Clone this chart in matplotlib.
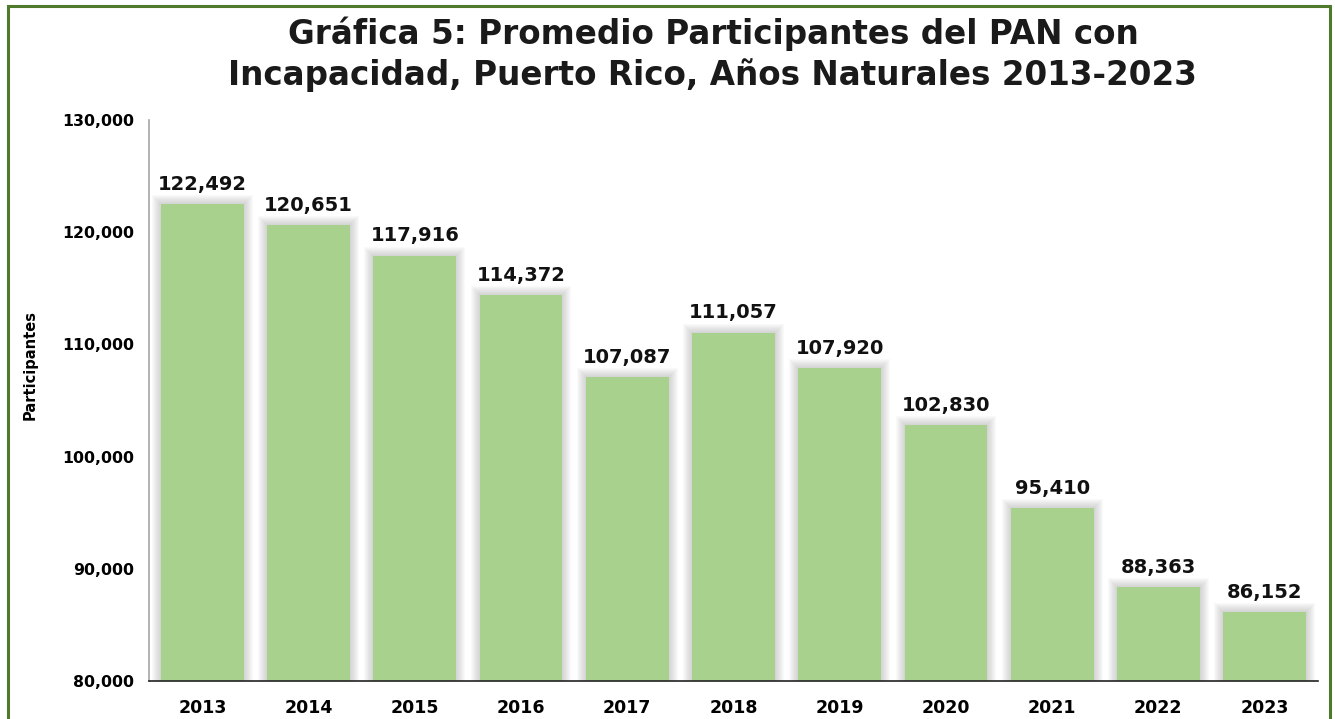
import matplotlib.pyplot as plt
import matplotlib.patches as mpatches
from matplotlib.ticker import FuncFormatter

years = ['2013', '2014', '2015', '2016', '2017', '2018',
         '2019', '2020', '2021', '2022', '2023']
participantes = [122492, 120651, 117916, 114372, 107087, 111057,
                 107920, 102830, 95410, 88363, 86152]

title = ('Gráfica 5: Promedio Participantes del PAN con\n'
         'Incapacidad, Puerto Rico, Años Naturales 2013-2023')
bar_color = '#A9D18E'
frame_color = '#4F7A2E'

plt.rcParams['font.family'] = ['DejaVu Sans']
plt.rcParams['font.weight'] = 'bold'

W, H = 1335, 719
fig = plt.figure(figsize=(W / 100, H / 100), dpi=100)
ax = fig.add_axes([149 / W, 1 - 681 / H, 1169 / W, 561 / H])

x = list(range(len(years)))
width = 0.78
px_x = 1 / 106.25          # one pixel in x data units
px_y = 50000 / 561         # one pixel in y data units
# soft grey glow behind bars
for k in range(9, 0, -1):
    ax.bar(x, [v + k * px_y for v in participantes],
           width=width + 2 * k * px_x, color='#7f7f7f', alpha=0.04,
           linewidth=0, zorder=1)
ax.bar(x, participantes, width=width, color=bar_color, linewidth=0, zorder=2)

for xi, v in zip(x, participantes):
    ax.text(xi, v + 900, f'{v:,}', ha='center', va='bottom',
            fontsize=14, fontweight='bold', color='#111111', zorder=3)

ax.set_ylim(80000, 130000)
ax.set_xlim(-0.503, len(years) - 0.497)
ax.set_yticks(range(80000, 130001, 10000))
ax.yaxis.set_major_formatter(FuncFormatter(lambda v, _: f'{int(v):,}'))
ax.set_xticks(x)
ax.set_xticklabels(years, fontsize=12.5, fontweight='bold')
ax.tick_params(axis='y', labelsize=11.3, length=0, pad=11)
ax.tick_params(axis='x', length=0, pad=13)
ax.set_ylabel('Participantes', fontsize=10.5, fontweight='bold')
ax.yaxis.set_label_coords(-0.095, 0.563)

for s in ('top', 'right'):
    ax.spines[s].set_visible(False)
ax.spines['left'].set_color('#A6A6A6')
ax.spines['left'].set_linewidth(1.2)
ax.spines['bottom'].set_color('#222222')
ax.spines['bottom'].set_linewidth(1.2)

fig.text(0.534, 0.977, title, ha='center', va='top', fontsize=23.5,
         fontweight='bold', linespacing=1.25, color='#1a1a1a')

fig.patches.append(mpatches.Rectangle((8 / W, -0.01), 1322 / W, 1 - 6 / H + 0.01,
                                      transform=fig.transFigure, fill=False,
                                      edgecolor=frame_color, linewidth=2.2))

fig.savefig('out.png', dpi=100)
